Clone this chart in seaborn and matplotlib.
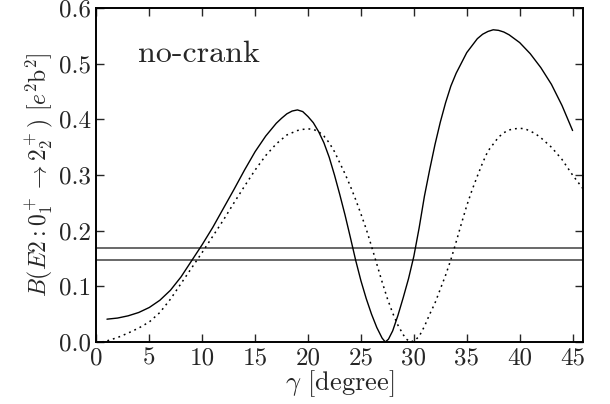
import matplotlib
matplotlib.use("Agg")
import matplotlib.pyplot as plt
import seaborn as sns
import pandas as pd

# B(E2; 0_1^+ -> 2_2^+) versus the triaxiality gamma, no cranking
gamma_solid = [1, 2, 3, 4, 5, 6, 7, 8, 9, 10, 11, 12, 13, 14, 15, 16, 17,
               17.5, 18, 18.5, 19, 19.5, 20, 20.5, 21, 21.5, 22, 22.5, 23,
               23.5, 24, 24.5, 25, 25.5, 26, 26.5, 27, 27.3, 27.6, 28, 28.5,
               29, 29.5, 30, 30.5, 31, 31.5, 32, 32.5, 33, 33.5, 34, 35, 36,
               36.5, 37, 37.5, 38, 38.5, 39, 40, 41, 42, 43, 44, 45]
be2_solid = [0.041, 0.043, 0.047, 0.053, 0.062, 0.075, 0.093, 0.117, 0.146,
             0.175, 0.206, 0.240, 0.274, 0.309, 0.342, 0.370, 0.393, 0.402,
             0.410, 0.415, 0.417, 0.414, 0.405, 0.394, 0.378, 0.358, 0.332,
             0.300, 0.265, 0.228, 0.188, 0.147, 0.110, 0.078, 0.050, 0.026,
             0.007, 0.0, 0.005, 0.020, 0.048, 0.080, 0.114, 0.154, 0.205,
             0.262, 0.310, 0.355, 0.395, 0.430, 0.460, 0.483, 0.520, 0.545,
             0.553, 0.558, 0.561, 0.560, 0.557, 0.552, 0.538, 0.518, 0.493,
             0.463, 0.425, 0.380]

gamma_dotted = [0.5, 1, 2, 3, 4, 5, 6, 7, 8, 9, 10, 11, 12, 13, 14, 15, 16,
                17, 18, 19, 19.5, 20, 20.5, 21, 21.5, 22, 22.5, 23, 23.5, 24,
                24.5, 25, 25.5, 26, 26.5, 27, 27.5, 28, 28.5, 29, 29.3, 29.7,
                30.1, 30.5, 31, 31.5, 32, 32.5, 33, 33.5, 34, 34.5, 35, 35.5,
                36, 36.5, 37, 38, 38.5, 39, 39.5, 40, 40.5, 41, 41.5, 42, 43,
                44, 45, 46]
be2_dotted = [0.0, 0.002, 0.008, 0.016, 0.025, 0.036, 0.053, 0.077, 0.105,
              0.133, 0.161, 0.190, 0.219, 0.250, 0.280, 0.309, 0.335, 0.356,
              0.372, 0.380, 0.382, 0.383, 0.382, 0.378, 0.370, 0.358, 0.342,
              0.322, 0.302, 0.280, 0.256, 0.230, 0.203, 0.172, 0.140, 0.108,
              0.078, 0.052, 0.030, 0.013, 0.005, 0.0, 0.003, 0.010, 0.028,
              0.050, 0.070, 0.095, 0.120, 0.148, 0.180, 0.213, 0.245, 0.273,
              0.298, 0.322, 0.343, 0.368, 0.376, 0.381, 0.383, 0.384, 0.383,
              0.379, 0.374, 0.367, 0.350, 0.328, 0.300, 0.275]

# experimental lower/upper bounds
exp_bounds = [0.147, 0.169]

x_ticks = [0, 5, 10, 15, 20, 25, 30, 35, 40, 45]
y_ticks = [0.0, 0.1, 0.2, 0.3, 0.4, 0.5, 0.6]

sns.set_style("ticks")
plt.rcParams.update({
    "font.family": "serif",
    "font.serif": ["cmr10", "DejaVu Serif"],
    "mathtext.fontset": "cm",
    "axes.unicode_minus": False,
    "axes.formatter.use_mathtext": True,
    "lines.solid_joinstyle": "round",
})

solid_df = pd.DataFrame({"gamma": gamma_solid, "be2": be2_solid})
dotted_df = pd.DataFrame({"gamma": gamma_dotted, "be2": be2_dotted})

fig = plt.figure(figsize=(6.10, 4.04), dpi=100)
ax = fig.add_axes([0.158, 0.1535, 0.798, 0.8265])

for yb in exp_bounds:
    ax.axhline(yb, color="#404040", lw=1.1, zorder=1)

sns.lineplot(data=solid_df, x="gamma", y="be2", ax=ax, color="black",
             lw=1.0, sort=False, estimator=None)
sns.lineplot(data=dotted_df, x="gamma", y="be2", ax=ax, color="black",
             lw=1.1, linestyle=(0, (1.2, 2.6)), sort=False, estimator=None)

ax.set_xlim(0, 46)
ax.set_ylim(0, 0.6)
ax.set_xticks(x_ticks)
ax.set_yticks(y_ticks)
ax.set_yticklabels([f"{v:.1f}" for v in y_ticks])
ax.set_xticklabels([str(v) for v in x_ticks])

ax.tick_params(direction="in", length=6, width=1.0, top=True, right=True,
               labelsize=18, pad=4)
for s in ax.spines.values():
    s.set_linewidth(1.4)
    s.set_color("black")

ax.set_xlabel(r"$\gamma$ [degree]", fontsize=19, labelpad=-1)
ax.set_ylabel(r"$B(E2:0_1^+\rightarrow 2_2^+)$ [$e^2\mathrm{b}^2$]",
              fontsize=17, labelpad=3)

ax.text(3.95, 0.503, "no-crank", fontsize=23, va="baseline", ha="left")

fig.savefig("out.png", dpi=100)
